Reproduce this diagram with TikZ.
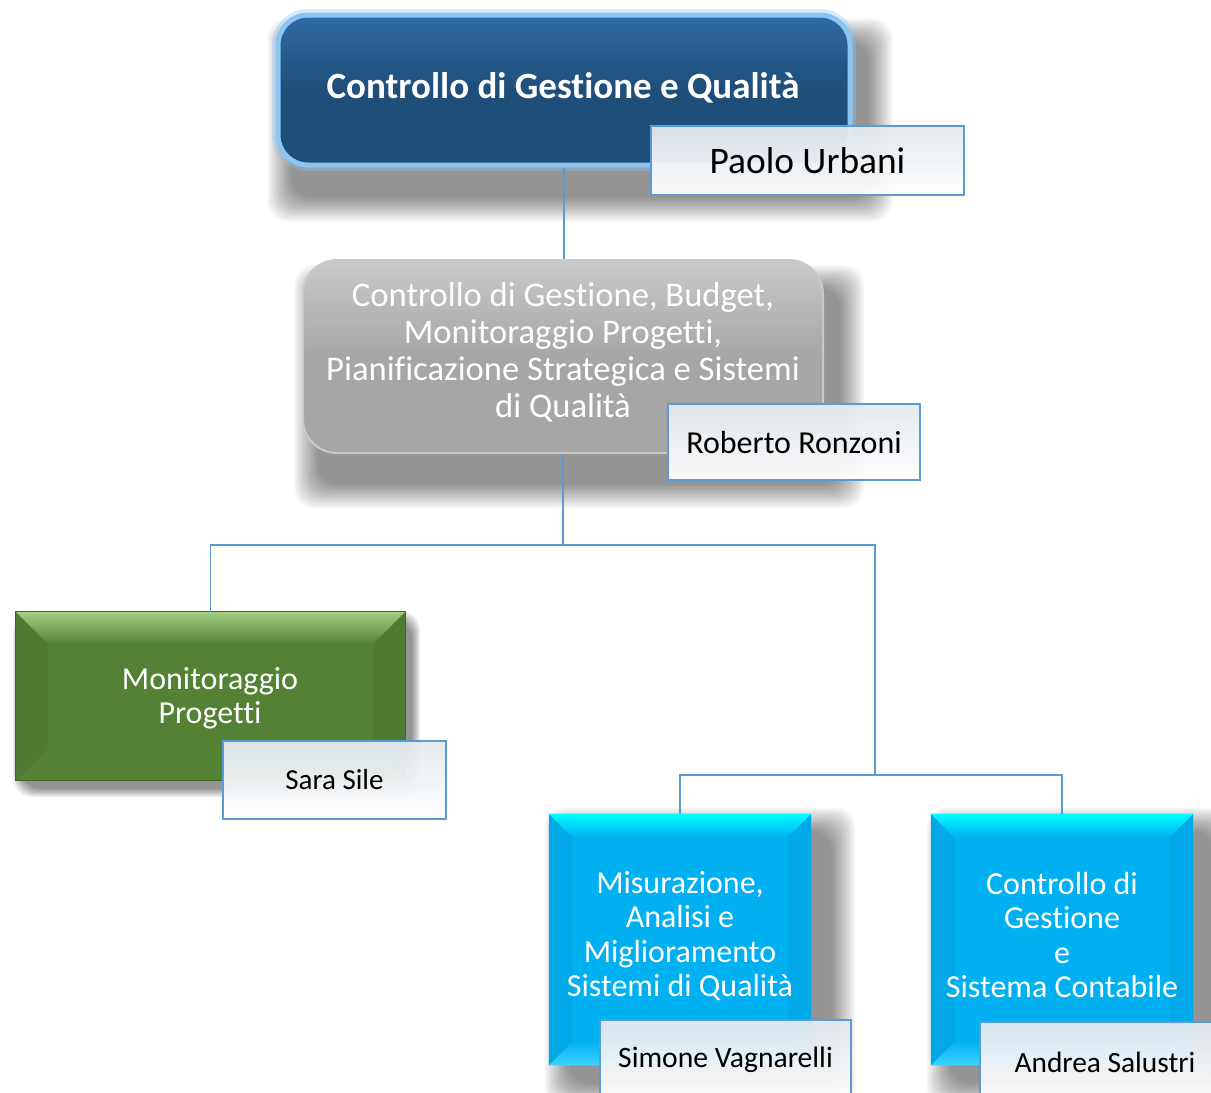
\documentclass[tikz,border=0pt]{standalone}
\usepackage{fontspec}
\setmainfont{Carlito}[Ligatures=NoCommon]
\definecolor{topblue}{HTML}{1F4E79}
\definecolor{topblueL}{HTML}{2F6AA6}
\definecolor{glowblue}{HTML}{8CC4F2}
\definecolor{lineblue}{HTML}{5B9BD5}
\definecolor{greyM}{HTML}{A6A6A6}
\definecolor{greyL}{HTML}{C9C9C9}
\definecolor{greenM}{HTML}{548235}
\definecolor{greenL}{HTML}{A3CF85}
\definecolor{greenD}{HTML}{3F6628}
\definecolor{cyanM}{HTML}{00B0F0}
\definecolor{cyanL}{HTML}{00FFFF}
\definecolor{cyanB}{HTML}{40D4FF}
\definecolor{cyanD}{HTML}{0098D8}
\definecolor{nameTop}{HTML}{E3E9EF}
\pgfdeclarelayer{background}
\pgfsetlayers{background,main}
% soft shadow: node, x offset (pt), y offset (pt, downwards), spread step (pt)
\newcommand\mysoftshadow[4]{%
  \begin{pgfonlayer}{background}
  \foreach \i in {0,...,15}{
    \pgfmathsetmacro\e{(15-\i)*#4}
    \fill[black, opacity=0.03, rounded corners=10pt]
      ([shift={({#2pt-\e*1pt},{-#3pt+\e*1pt})}]#1.north west) rectangle
      ([shift={({#2pt+\e*1pt},{-#3pt-\e*1pt})}]#1.south east);
  }
  \end{pgfonlayer}}
\begin{document}
\begin{tikzpicture}[x=0.5pt,y=-0.5pt,
  conn/.style={draw=lineblue, line width=0.7pt},
  namebox/.style={draw=lineblue, line width=1.1pt, top color=nameTop, bottom color=white, fill opacity=0.95, text opacity=1, inner sep=0pt, text=black},
  wtext/.style={text=white, align=center}
]
\useasboundingbox (0,0) rectangle (1211,1093);
\clip (0,0) rectangle (1211,1093);
\begin{pgfonlayer}{background}
\fill[white] (0,0) rectangle (1211,1093);
\end{pgfonlayer}

% coordinates for connector bends
\coordinate (j1) at (568,545);
\coordinate (j2) at (875,775);

% ---------- top box
\node[draw=glowblue, line width=6pt, draw opacity=0.35, rounded corners=15pt,
      minimum width=286pt, minimum height=75pt] (topglow) at (564,90) {};
\node[draw=glowblue, line width=2.5pt, rounded corners=15pt, top color=topblueL, bottom color=topblue, middle color=topblue,
      minimum width=286pt, minimum height=75pt] (top) at (564,90) {};
\mysoftshadow{top}{8}{15}{0.8}
\node[text=white, font=\fontsize{18.5}{22}\selectfont\bfseries] (toptext) at (563,88) {Controllo di Gestione e Qualità};

% ---------- grey box
\node[draw=greyL, line width=1pt, rounded corners=17pt, top color=greyL, bottom color=greyM, middle color=greyM,
      minimum width=260pt, minimum height=96.5pt] (grey) at (563,356.5) {};
\mysoftshadow{grey}{8}{15}{0.8}
\node[wtext, font=\fontsize{17.3}{18.5}\selectfont] (greytext) at (563,352)
  {Controllo di Gestione, Budget,\\Monitoraggio Progetti,\\Pianificazione Strategica e Sistemi\\di Qualità};

% connectors
\draw[conn] (top.south) -- (top.south |- grey.north);
\draw[conn] (grey.south) -- (grey.south |- j1);

% ---------- green box
\node[fill=greenM, minimum width=194.5pt, minimum height=84pt] (green) at (210.5,696) {};
\mysoftshadow{green}{3}{4}{0.3}
\shade[top color=greenL, bottom color=greenM] (green.north west) -- (green.north east)
   -- ([shift={(-16pt,-16pt)}]green.north east) -- ([shift={(16pt,-16pt)}]green.north west) -- cycle;
\fill[greenD, opacity=0.25] (green.north west) -- ([shift={(16pt,-16pt)}]green.north west) -- ([shift={(16pt,16pt)}]green.south west) -- (green.south west) -- cycle;
\fill[greenD, opacity=0.25] (green.north east) -- ([shift={(-16pt,-16pt)}]green.north east) -- ([shift={(-16pt,16pt)}]green.south east) -- (green.south east) -- cycle;
\draw[greenD, line width=0.8pt] (green.north west) rectangle (green.south east);
\node[wtext, font=\fontsize{16}{17}\selectfont] (greentext) at (210,698) {Monitoraggio\\Progetti};

% ---------- cyan boxes
\foreach \n/\cx in {cyan1/680, cyan2/1062}{
  \node[fill=cyanM, minimum width=131pt, minimum height=125.5pt] (\n) at (\cx,939.5) {};
  \mysoftshadow{\n}{10}{9}{0.8}
  \shade[top color=cyanL, bottom color=cyanM] (\n.north west) -- (\n.north east)
     -- ([shift={(-12pt,-12pt)}]\n.north east) -- ([shift={(12pt,-12pt)}]\n.north west) -- cycle;
  \shade[top color=cyanM, bottom color=cyanB] (\n.south west) -- (\n.south east)
     -- ([shift={(-12pt,12pt)}]\n.south east) -- ([shift={(12pt,12pt)}]\n.south west) -- cycle;
  \fill[cyanD, opacity=0.3] (\n.north west) -- ([shift={(12pt,-12pt)}]\n.north west) -- ([shift={(12pt,12pt)}]\n.south west) -- (\n.south west) -- cycle;
  \fill[cyanD, opacity=0.3] (\n.north east) -- ([shift={(-12pt,-12pt)}]\n.north east) -- ([shift={(-12pt,12pt)}]\n.south east) -- (\n.south east) -- cycle;
}
\node[wtext, font=\fontsize{16}{17.3}\selectfont] (cyan1text) at (680,936)
  {Misurazione,\\Analisi e\\Miglioramento\\Sistemi di Qualità};
\node[wtext, font=\fontsize{16}{17.3}\selectfont] (cyan2text) at (1062,935)
  {Controllo di\\Gestione\\e\\Sistema Contabile};

% connectors to lower level
\draw[conn] (green.north) -- (green.north |- j1) -- (j2 |- j1) -- (j2);
\draw[conn] (cyan1.north) -- (cyan1.north |- j2) -- (cyan2.north |- j2) -- (cyan2.north);

% ---------- name boxes
\node[namebox, minimum width=156.5pt, minimum height=34.5pt, font=\fontsize{18.7}{21}\selectfont] (paolo) at (807.5,160.5) {Paolo Urbani};
\node[namebox, minimum width=126pt, minimum height=38pt, font=\fontsize{16}{18}\selectfont] (roberto) at (794,442) {Roberto Ronzoni};
\node[namebox, minimum width=111.5pt, minimum height=39pt, font=\fontsize{14.5}{17}\selectfont] (sara) at (334.5,780) {Sara Sile};
\node[namebox, minimum width=125.5pt, minimum height=40pt, font=\fontsize{14.8}{17}\selectfont] (simone) at (725.5,1060) {Simone Vagnarelli};
\node[namebox, minimum width=125pt, minimum height=40pt, font=\fontsize{14.7}{17}\selectfont] (andrea) at (1105,1062) {Andrea Salustri};
\end{tikzpicture}
\end{document}
